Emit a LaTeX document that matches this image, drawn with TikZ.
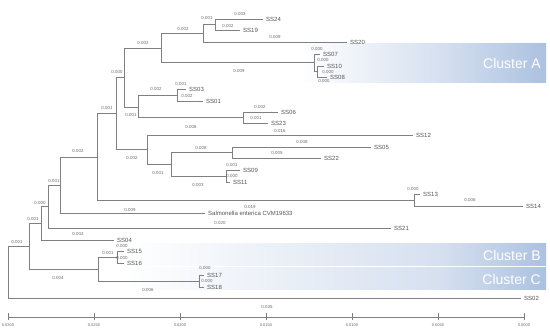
\documentclass[tikz,border=0pt]{standalone}
\usepackage{fontspec}
\setmainfont{Liberation Sans}
\definecolor{lnc}{RGB}{128,128,128}
\definecolor{txc}{RGB}{85,85,85}
\definecolor{blc}{RGB}{105,105,105}
\definecolor{clc}{RGB}{172,193,224}
\newcommand\lf[4]{\coordinate (e#1) at (#2,#3); \node[leaf] (#1) at (#2+3,#3) {#4};}
\newcommand\bl[4]{\node[blab] (#1) at (#2,#3) {#4};}
\begin{document}
\begin{tikzpicture}[x=1pt,y=-1pt,
  br/.style={draw=lnc,line width=0.7pt},
  leaf/.style={anchor=west,inner sep=0pt,font=\fontsize{6}{7}\selectfont,text=txc},
  blab/.style={inner sep=0pt,font=\fontsize{4.4}{5}\selectfont,text=blc},
  clu/.style={anchor=east,inner sep=0pt,text=white,font=\fontsize{14}{16}\selectfont},
  axl/.style={inner sep=0pt,font=\fontsize{4}{5}\selectfont,text=blc}]
\useasboundingbox (0,0) rectangle (550,336);
% cluster bands
\shade[left color=white,right color=clc!50!white] (300,44) rectangle (440.5,83);
\shade[left color=clc!50!white,right color=clc] (440,44) rectangle (546,83);
\shade[left color=white,right color=clc!50!white] (125,244) rectangle (440.5,266);
\shade[left color=clc!50!white,right color=clc] (440,244) rectangle (546,266);
\shade[left color=white,right color=clc!50!white] (125,268) rectangle (440.5,290);
\shade[left color=clc!50!white,right color=clc] (440,268) rectangle (546,290);
\node[clu] (cA) at (541,63.5) {Cluster A};
\node[clu] (cB) at (541,255) {Cluster B};
\node[clu] (cC) at (541,279) {Cluster C};
% internal nodes
\coordinate (N0) at (8,272);
\coordinate (N1) at (29,246);
\coordinate (N2) at (41,223);
\coordinate (N3) at (48,206.5);
\coordinate (N4) at (60,185);
\coordinate (N5) at (97,157);
\coordinate (N6) at (116,113.5);
\coordinate (N6a) at (124,77.5);
\coordinate (N7) at (161,48);
\coordinate (N8) at (203,33);
\coordinate (N9) at (215,24.5);
\coordinate (NA) at (314,62);
\coordinate (NB) at (317,71.5);
\coordinate (N10) at (138,107);
\coordinate (N15) at (177,95);
\coordinate (N16) at (243,117.5);
\coordinate (N11) at (147,149.5);
\coordinate (N12) at (171,164);
\coordinate (N13) at (232,152.5);
\coordinate (N14) at (226,176);
\coordinate (N17) at (414,200);
\coordinate (NBC) at (98,269);
\coordinate (NBa) at (117,257);
\coordinate (NC) at (199,281);
% leaves
\lf{SS24}{263}{19}{SS24}
\lf{SS19}{240}{30}{SS19}
\lf{SS20}{347}{42}{SS20}
\lf{SS07}{320}{54}{SS07}
\lf{SS10}{324}{66}{SS10}
\lf{SS08}{327}{77}{SS08}
\lf{SS03}{186}{89}{SS03}
\lf{SS01}{203}{101}{SS01}
\lf{SS06}{278}{112}{SS06}
\lf{SS23}{268}{123}{SS23}
\lf{SS12}{413}{135}{SS12}
\lf{SS05}{371}{147}{SS05}
\lf{SS22}{321}{158}{SS22}
\lf{SS09}{240}{170}{SS09}
\lf{SS11}{230}{182}{SS11}
\lf{SS13}{420}{194}{SS13}
\lf{SS14}{523}{206}{SS14}
\lf{Sal}{205}{213}{Salmonella enterica CVM19633}
\lf{SS21}{391}{228}{SS21}
\lf{SS04}{114}{240}{SS04}
\lf{SS15}{124}{251}{SS15}
\lf{SS16}{124}{263}{SS16}
\lf{SS17}{204}{275}{SS17}
\lf{SS18}{204}{287}{SS18}
\lf{SS02}{521}{298}{SS02}
% branches
\draw[br] (N0) |- (N1); \draw[br] (N0) |- (eSS02);
\draw[br] (N1) |- (N2); \draw[br] (N1) |- (NBC);
\draw[br] (N2) |- (N3); \draw[br] (N2) |- (eSS04);
\draw[br] (N3) |- (N4); \draw[br] (N3) |- (eSS21);
\draw[br] (N4) |- (N5); \draw[br] (N4) |- (eSal);
\draw[br] (N5) |- (N6); \draw[br] (N5) |- (N17);
\draw[br] (N6) |- (N6a); \draw[br] (N6) |- (N11);
\draw[br] (N6a) |- (N7); \draw[br] (N6a) |- (N10);
\draw[br] (N7) |- (N8); \draw[br] (N7) |- (NA);
\draw[br] (N8) |- (N9); \draw[br] (N8) |- (eSS20);
\draw[br] (N9) |- (eSS24); \draw[br] (N9) |- (eSS19);
\draw[br] (NA) |- (eSS07); \draw[br] (NA) |- (NB);
\draw[br] (NB) |- (eSS10); \draw[br] (NB) |- (eSS08);
\draw[br] (N10) |- (N15); \draw[br] (N10) |- (N16);
\draw[br] (N15) |- (eSS03); \draw[br] (N15) |- (eSS01);
\draw[br] (N16) |- (eSS06); \draw[br] (N16) |- (eSS23);
\draw[br] (N11) |- (eSS12); \draw[br] (N11) |- (N12);
\draw[br] (N12) |- (N13); \draw[br] (N12) |- (N14);
\draw[br] (N13) |- (eSS05); \draw[br] (N13) |- (eSS22);
\draw[br] (N14) |- (eSS09); \draw[br] (N14) |- (eSS11);
\draw[br] (N17) |- (eSS13); \draw[br] (N17) |- (eSS14);
\draw[br] (NBC) |- (NBa); \draw[br] (NBC) |- (NC);
\draw[br] (NBa) |- (eSS15); \draw[br] (NBa) |- (eSS16);
\draw[br] (NC) |- (eSS17); \draw[br] (NC) |- (eSS18);
% branch lengths
\bl{b1}{240}{14}{0.003}
\bl{b2}{228}{26}{0.002}
\bl{b3}{207}{18}{0.001}
\bl{b4}{275}{37}{0.009}
\bl{b5}{183}{29}{0.002}
\bl{b6}{239}{71}{0.009}
\bl{b7}{143}{43}{0.002}
\bl{b8}{317}{49}{0.000}
\bl{b9}{323}{60}{0.000}
\bl{b10}{328}{72}{0.000}
\bl{b11}{324}{81}{0.000}
\bl{b12}{117}{72}{0.000}
\bl{b13}{107}{108}{0.001}
\bl{b14}{156}{89}{0.002}
\bl{b15}{181}{84}{0.001}
\bl{b16}{187}{96}{0.002}
\bl{b17}{131}{115}{0.001}
\bl{b18}{260}{107}{0.002}
\bl{b19}{256}{118}{0.001}
\bl{b20}{191}{127}{0.006}
\bl{b21}{280}{131}{0.016}
\bl{b22}{132}{158}{0.002}
\bl{b23}{201}{148}{0.008}
\bl{b24}{302}{142}{0.008}
\bl{b25}{277}{153}{0.005}
\bl{b26}{158}{173}{0.001}
\bl{b27}{198}{185}{0.003}
\bl{b28}{232}{165}{0.001}
\bl{b29}{232}{176}{0.000}
\bl{b30}{250}{207}{0.019}
\bl{b31}{413}{189}{0.000}
\bl{b32}{470}{200}{0.006}
\bl{b33}{78}{151}{0.002}
\bl{b34}{130}{210}{0.009}
\bl{b35}{54}{181}{0.001}
\bl{b36}{220}{223}{0.020}
\bl{b37}{40}{203}{0.000}
\bl{b38}{78}{234}{0.004}
\bl{b39}{33}{219}{0.001}
\bl{b40}{58}{278}{0.004}
\bl{b41}{108}{253}{0.001}
\bl{b42}{122}{246}{0.000}
\bl{b43}{122}{258}{0.000}
\bl{b44}{148}{290}{0.006}
\bl{b45}{205}{268}{0.000}
\bl{b46}{207}{281}{0.000}
\bl{b47}{17}{242}{0.001}
\bl{b48}{267}{307}{0.035}
% axis
\coordinate (t0) at (8,317);
\coordinate (t1) at (94,317);
\coordinate (t2) at (180,317);
\coordinate (t3) at (266,317);
\coordinate (t4) at (352,317);
\coordinate (t5) at (438,317);
\coordinate (t6) at (524,317);
\draw[br] (t0) -- (t6);
\foreach \t/\lab in {t0/0.0300,t1/0.0250,t2/0.0200,t3/0.0150,t4/0.0100,t5/0.0050,t6/0.0000}{
  \draw[br] ([yshift=-3.5pt]\t) -- ([yshift=3.5pt]\t);
  \node[axl] (l\t) at ([yshift=-8pt]\t) {\lab};
}
\end{tikzpicture}
\end{document}
